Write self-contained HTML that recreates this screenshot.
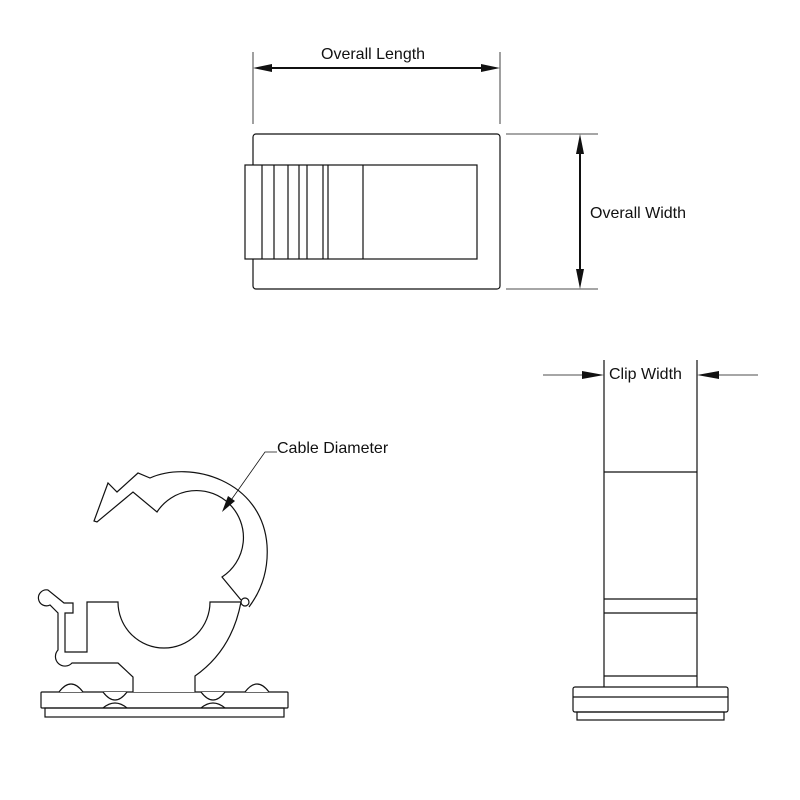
<!DOCTYPE html>
<html><head><meta charset="utf-8"><style>
html,body{margin:0;padding:0;background:#fff}
svg{display:block}
text{font-family:"Liberation Sans",sans-serif;font-size:16px;fill:#111}
</style></head><body>
<svg width="800" height="800" viewBox="0 0 800 800" xmlns="http://www.w3.org/2000/svg">
<g stroke="#111" fill="none" stroke-width="1.2">
<line x1="253" y1="52" x2="253" y2="124" stroke-width="0.8"/>
<line x1="500" y1="52" x2="500" y2="124" stroke-width="0.8"/>
<line x1="265" y1="68" x2="488" y2="68" stroke-width="2"/>
<rect x="253" y="134" width="247" height="155" rx="3"/>
<rect x="245" y="165" width="232" height="94" fill="#fff"/>
<path d="M262 165V259M274 165V259M288 165V259M299 165V259M307 165V259M323 165V259M328 165V259M363 165V259"/>
<line x1="506" y1="134" x2="598" y2="134" stroke-width="0.8"/>
<line x1="506" y1="289" x2="598" y2="289" stroke-width="0.8"/>
<line x1="580" y1="146" x2="580" y2="277" stroke-width="2"/>
<line x1="604" y1="360" x2="604" y2="687"/>
<line x1="697" y1="360" x2="697" y2="687"/>
<path d="M604 472H697M604 599H697M604 613H697M604 676H697"/>
<rect x="573" y="687" width="155" height="25" rx="2"/>
<line x1="573" y1="697" x2="728" y2="697"/>
<rect x="577" y="712" width="147" height="8"/>
<line x1="543" y1="375" x2="590" y2="375" stroke-width="0.8"/>
<line x1="711" y1="375" x2="758" y2="375" stroke-width="0.8"/>
<rect x="41" y="692" width="247" height="16" rx="1"/>
<rect x="45" y="708" width="239" height="9"/>
<path d="M59 692 Q71 676 83 692 M103 692 Q115 708 127 692 M201 692 Q213 708 225 692 M245 692 Q257 676 269 692" fill="#fff"/>
<path d="M103 708 Q115 698 127 708 M201 708 Q213 698 225 708"/>
<path d="M133 692 V677 L118 663 H72 A9 9 0 1 1 58 650 V613 L50 605 A8 8 0 1 1 48 590 L64 603 H73 V613 H65 V652 H87 V602 H118 A46 46 0 0 0 210 602 H241 Q232 650 195 676 V692" fill="#fff"/>
<path d="M241 600 L222 577 A47 47 0 1 0 157 512 L133 492 L97 522 L94 521 L108 483 L117 492 L138 473 L150 478 C190 460 262 480 267 545 C269 575 258 595 249 607"/>
<circle cx="245" cy="602" r="4" fill="#fff"/>
<path d="M277 452 H265 L229 503" stroke-width="0.8"/>
</g>
<g fill="#111">
<path d="M253 68 L272 64 L272 72Z"/>
<path d="M500 68 L481 64 L481 72Z"/>
<path d="M580 134 L576 154 L584 154Z"/>
<path d="M580 289 L576 269 L584 269Z"/>
<path d="M604 375 L582 371 L582 379Z"/>
<path d="M697 375 L719 371 L719 379Z"/>
<path d="M222 512 L228 496 L235 501Z"/>
</g>
<text x="321" y="59">Overall Length</text>
<text x="590" y="218">Overall Width</text>
<text x="609" y="379">Clip Width</text>
<text x="277" y="453">Cable Diameter</text>
</svg>
</body></html>
